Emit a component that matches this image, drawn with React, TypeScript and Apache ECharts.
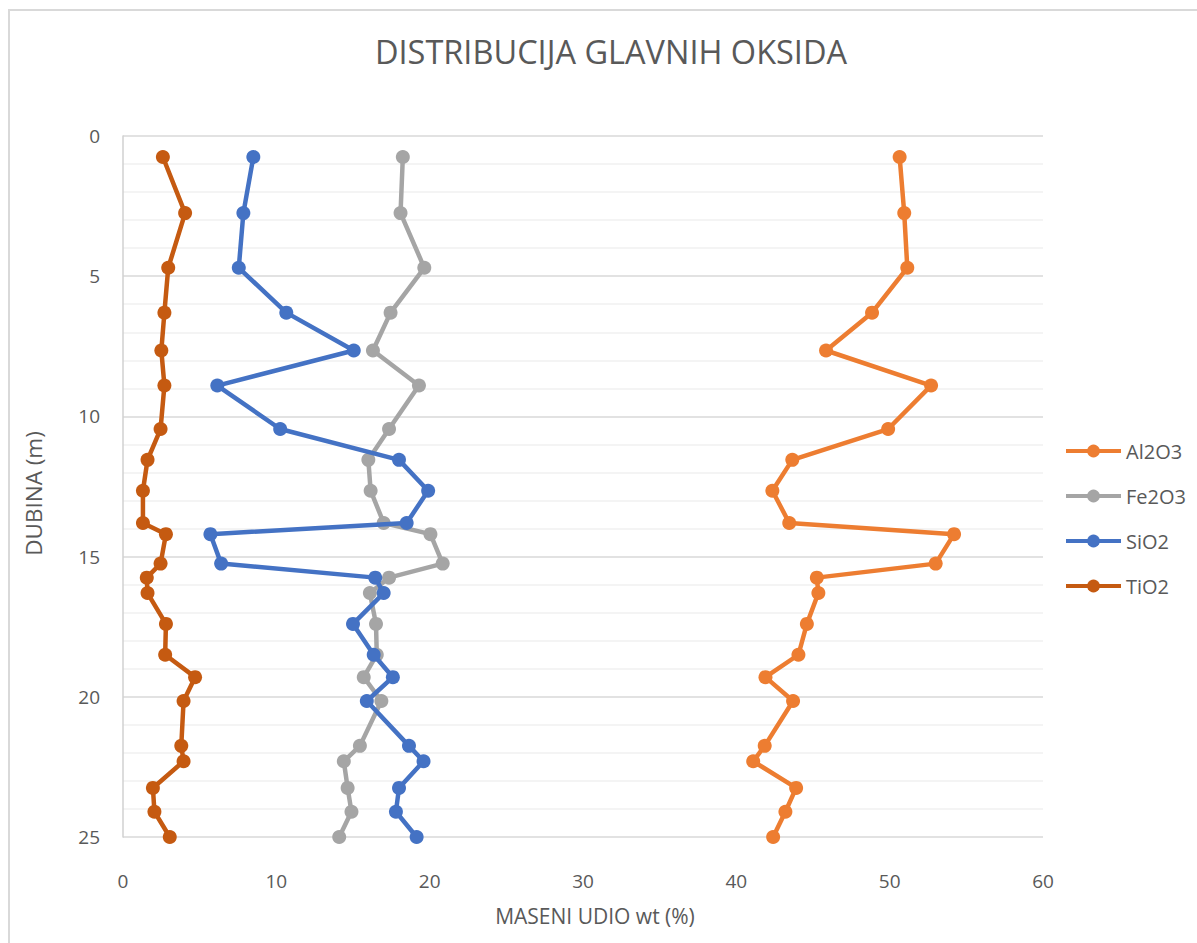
import React, { useEffect, useRef } from "react";
import * as echarts from "echarts";

const titleText = "DISTRIBUCIJA GLAVNIH OKSIDA";
const xAxisName = "MASENI UDIO wt (%)";
const yAxisName = "DUBINA (m)";

const depths = [0.75, 2.75, 4.7, 6.3, 7.65, 8.9, 10.45, 11.55, 12.65, 13.8, 14.2, 15.25, 15.75, 16.3, 17.4, 18.5, 19.3, 20.15, 21.75, 22.3, 23.25, 24.1, 25];

const seriesNames = ["Al2O3", "Fe2O3", "SiO2", "TiO2"];
const al2o3 = [50.65, 50.95, 51.15, 48.85, 45.85, 52.7, 49.9, 43.65, 42.35, 43.45, 54.2, 53.0, 45.25, 45.35, 44.6, 44.05, 41.9, 43.7, 41.85, 41.1, 43.9, 43.2, 42.4];
const fe2o3 = [18.25, 18.1, 19.65, 17.45, 16.3, 19.3, 17.35, 16.0, 16.15, 17.0, 20.05, 20.85, 17.35, 16.1, 16.5, 16.55, 15.7, 16.85, 15.45, 14.4, 14.65, 14.9, 14.1];
const sio2 = [8.5, 7.85, 7.55, 10.65, 15.05, 6.15, 10.25, 18.0, 19.9, 18.5, 5.7, 6.4, 16.45, 17.0, 15.0, 16.35, 17.6, 15.9, 18.65, 19.6, 18.0, 17.8, 19.15];
const tio2 = [2.6, 4.05, 2.95, 2.7, 2.5, 2.7, 2.45, 1.6, 1.3, 1.3, 2.8, 2.45, 1.55, 1.6, 2.8, 2.75, 4.7, 3.95, 3.8, 3.95, 1.95, 2.05, 3.05];
const seriesValues = [al2o3, fe2o3, sio2, tio2];
const seriesColors = ["#ED7D31", "#A5A5A5", "#4472C4", "#C55A11"];

const FONT = "'Open Sans', 'Noto Sans', sans-serif";
const TEXT = "#595959";

export default function App() {
  const ref = useRef<HTMLDivElement>(null);
  useEffect(() => {
    if (!ref.current) return;
    const chart = echarts.init(ref.current, null, { renderer: "svg" });
    chart.setOption({
      animation: false,
      backgroundColor: "#ffffff",
      textStyle: { fontFamily: FONT },
      title: {
        text: titleText,
        left: 606,
        top: 30,
        textAlign: "center",
        textStyle: { fontFamily: FONT, fontSize: 32.5, fontWeight: "normal", color: TEXT },
      },
      graphic: [
        {
          type: "rect",
          shape: { x: 9, y: 10, width: 1400, height: 1100 },
          style: { fill: "none", stroke: "#D9D9D9", lineWidth: 2 },
          silent: true,
        },
      ],
      legend: {
        orient: "vertical",
        left: 1059,
        top: 436,
        itemWidth: 55,
        itemHeight: 16,
        itemGap: 25,
        data: seriesNames,
        lineStyle: { width: 4 },
        textStyle: { fontFamily: FONT, fontSize: 20, color: TEXT },
      },
      grid: { left: 123, right: 154, top: 136, bottom: 106, containLabel: false },
      xAxis: {
        type: "value",
        min: 0,
        max: 60,
        interval: 10,
        name: xAxisName,
        nameLocation: "middle",
        nameGap: 68,
        nameTextStyle: { fontFamily: FONT, fontSize: 21, color: TEXT, padding: [0, 0, 0, 24] },
        axisLine: { show: false },
        axisTick: { show: false },
        splitLine: { show: false },
        axisLabel: { fontFamily: FONT, fontSize: 19, color: TEXT, margin: 34 },
      },
      yAxis: {
        type: "value",
        inverse: true,
        min: 0,
        max: 25,
        interval: 5,
        name: yAxisName,
        nameLocation: "middle",
        nameGap: 78,
        nameTextStyle: { fontFamily: FONT, fontSize: 22.5, color: TEXT, padding: [0, 14, 0, 0] },
        axisLine: { show: true, lineStyle: { color: "#D0D0D0", width: 1.5 } },
        axisTick: { show: false },
        axisLabel: { fontFamily: FONT, fontSize: 19, color: TEXT, margin: 23 },
        splitLine: { show: true, lineStyle: { color: "#D9D9D9", width: 1.5 } },
        minorTick: { show: false, splitNumber: 5 },
        minorSplitLine: { show: true, lineStyle: { color: "#F0F0F0", width: 1.5 } },
      },
      series: seriesNames.map((name, i) => ({
        name,
        type: "line",
        data: seriesValues[i].map((v, j) => [v, depths[j]]),
        symbol: "circle",
        symbolSize: 14,
        showSymbol: true,
        lineStyle: { color: seriesColors[i], width: 4.5 },
        itemStyle: { color: seriesColors[i] },
        z: 2 + i,
      })),
    });
    return () => chart.dispose();
  }, []);
  return (
    <div
      ref={ref}
      style={{ position: "absolute", left: 0, top: 0, width: 1197, height: 943 }}
    />
  );
}
